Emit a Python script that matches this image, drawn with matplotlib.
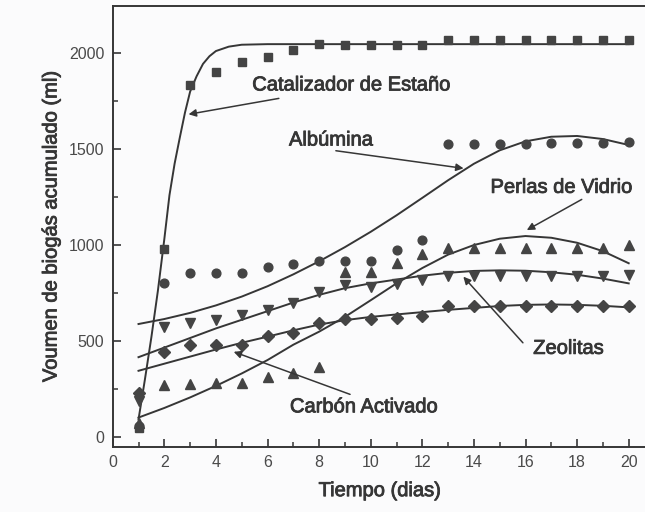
import matplotlib
matplotlib.use("Agg")
import matplotlib.pyplot as plt
import matplotlib.patheffects as pe
from matplotlib.ticker import MultipleLocator

plt.rcParams['font.family'] = ['Liberation Sans', 'DejaVu Sans']

# ---------------- data ----------------
days = list(range(1, 21))

catalizador = [45, 978, 1835, 1904, 1953, 1982, 2017, 2047, 2043, 2043,
               2043, 2043, 2069, 2069, 2069, 2069, 2069, 2069, 2069, 2069]
albumina = [55, 803, 856, 856, 856, 885, 901, 918, 918, 917,
            974, 1026, 1525, 1525, 1525, 1526, 1531, 1531, 1530, 1536]
perlas = [70, 270, 275, 278, 280, 310, 334, 365, 861, 861,
          904, 951, 982, 982, 982, 982, 982, 982, 982, 1000]
zeolitas = [185, 574, 595, 609, 635, 661, 699, 756, 791, 783,
            797, 817, 838, 838, 838, 838, 838, 838, 838, 845]
carbon = [228, 443, 478, 478, 478, 525, 543, 595, 612, 612,
          617, 630, 682, 682, 682, 682, 682, 682, 682, 682]

# fitted curves
fit_cat_days = [1.0, 1.25, 1.5, 1.75, 2.0, 2.2, 2.4, 2.6, 2.8, 3.0, 3.25,
                3.5, 3.75, 4.0, 4.5, 5.0, 6.0, 20.0]
fit_cat = [90, 300, 520, 760, 1030, 1260, 1425, 1560, 1690, 1800, 1880,
           1945, 1985, 2012, 2035, 2045, 2048, 2048]

fit_days = list(range(1, 21))
fit_alb = [588, 614, 646, 685, 731, 785, 847, 915, 989, 1069,
           1155, 1246, 1338, 1424, 1494, 1541, 1565, 1569, 1553, 1522]
fit_per = [100, 150, 205, 265, 330, 400, 480, 548, 625, 712,
           800, 880, 950, 1000, 1033, 1047, 1038, 1012, 968, 905]
fit_zeo = [415, 465, 515, 565, 610, 655, 700, 740, 775, 800,
           820, 840, 855, 865, 868, 866, 858, 845, 825, 800]
fit_car = [344, 381, 418, 455, 490, 522, 555, 585, 608, 625,
           638, 650, 662, 672, 682, 688, 690, 688, 683, 675]

labels = ["Catalizador de Estaño", "Albúmina", "Perlas de Vidrio",
          "Zeolitas", "Carbón Activado"]
x_ticks = [0, 2, 4, 6, 8, 10, 12, 14, 16, 18, 20]
y_ticks = [0, 500, 1000, 1500, 2000]

# ---------------- figure ----------------
W, H = 645, 512
fig = plt.figure(figsize=(W / 100, H / 100), dpi=100)
fig.patch.set_facecolor('#fbfbfc')

left_px, right_px, top_px, bottom_px = 112.7, 647, 6, 446.7
ax = fig.add_axes([left_px / W, 1 - bottom_px / H,
                   (right_px - left_px) / W, (bottom_px - top_px) / H])
ax.set_facecolor('none')

ink = '#363636'
mk = '#444444'
heavy = [pe.withStroke(linewidth=0.6, foreground=ink)]

ax.plot(fit_cat_days, fit_cat, color=ink, lw=1.4)
for ys in (fit_alb, fit_per, fit_zeo, fit_car):
    ax.plot(fit_days, ys, color=ink, lw=1.4)

ax.plot(days, catalizador, 's', color=mk, ms=6, mec=mk)
ax.plot(days, albumina, 'o', color=mk, ms=6.3, mec=mk)
ax.plot(days, perlas, '^', color=mk, ms=7.5, mec=mk)
ax.plot(days, zeolitas, 'v', color=mk, ms=7.5, mec=mk)
ax.plot(days, carbon, 'D', color=mk, ms=6, mec=mk)

ax.set_xlim(0, (right_px - left_px) / 25.8)
ax.set_ylim(-52, 2247)

ax.set_xticks(x_ticks)
ax.set_xticklabels([str(t) for t in x_ticks])
ax.xaxis.set_minor_locator(MultipleLocator(1))
ax.set_yticks(y_ticks)
ax.set_yticklabels([str(t) for t in y_ticks])
ax.yaxis.set_minor_locator(MultipleLocator(250))

ax.tick_params(which='major', direction='in', length=6, width=1.2,
               color=ink, labelcolor='#4a4a4a', labelsize=11.5, pad=6)
ax.tick_params(which='minor', direction='in', length=3.5, width=1.1,
               color=ink)
ax.tick_params(axis='y', which='both', right=False)
ax.tick_params(axis='x', which='both', top=False)
for s in ax.spines.values():
    s.set_color(ink)
    s.set_linewidth(1.4)

ax.set_xlabel("Tiempo (dias)", fontsize=14.5, color=ink, labelpad=8,
              path_effects=heavy)
ax.set_ylabel("Voumen de biogás acumulado (ml)", fontsize=14.5, color=ink,
              labelpad=6, path_effects=heavy)

# annotations
text_pos = [(9.26, 1835), (8.46, 1548), (17.4, 1301), (17.67, 461), (9.74, 156)]
arrows = [((6.44, 1765), (2.94, 1682)),
          ((8.65, 1492), (13.6, 1400)),
          ((18.18, 1238), (16.05, 1078)),
          ((15.9, 490), (13.59, 835)),
          ((9.2, 221), (4.69, 443))]
for lab, (tx, ty) in zip(labels, text_pos):
    ax.text(tx, ty, lab, fontsize=14.5, color=ink, ha='center', va='center',
            path_effects=heavy)
for tail, head in arrows:
    ax.annotate('', xy=head, xytext=tail,
                arrowprops=dict(arrowstyle='-|>', color=ink, lw=1.1,
                                mutation_scale=11, shrinkA=0, shrinkB=0))

fig.savefig("out.png", dpi=100, facecolor=fig.get_facecolor())
